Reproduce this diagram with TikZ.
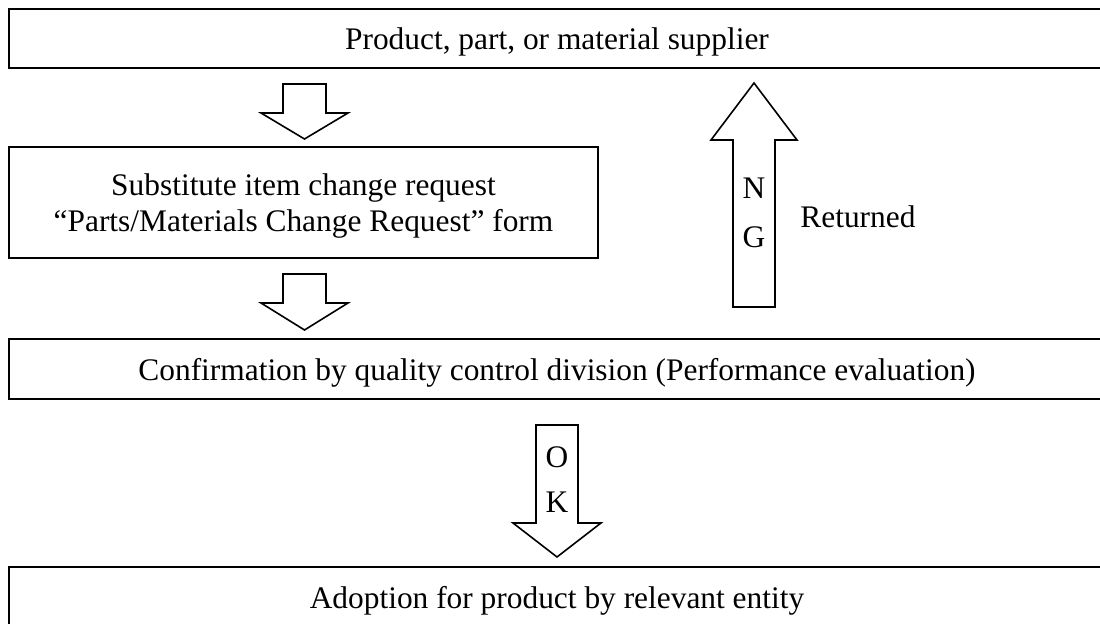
\documentclass[tikz,border=0pt]{standalone}
\usepackage{fontspec}
\setmainfont{Liberation Serif}
\usepackage{tikz}

\begin{document}
\begin{tikzpicture}[x=0.5pt,y=-0.5pt]
					\tikzstyle{every node}=[font=\fontsize{15.7}{18}\selectfont]
					\tikzstyle{box}=[draw,rectangle,line width=1pt,align=center,inner sep=0pt,text depth=0pt]
					\tikzstyle{blockarrow}=[draw,line width=0.8pt,line join=miter]
					\path[use as bounding box,clip] (0,0) rectangle (1100,624);

					\node[box,minimum width=548pt,minimum height=29.5pt] (supplier) at (557,38.5) {Product, part, or material supplier};
					\node[box,minimum width=294.5pt,minimum height=55.5pt] (request) at (303.5,202.5)
						{Substitute item change request\\``Parts/Materials Change Request'' form};
					\node[box,minimum width=548pt,minimum height=30pt] (confirm) at (557,369) {Confirmation by quality control division (Performance evaluation)};
					\node[box,minimum width=548pt,minimum height=30pt] (adopt) at (557,597) {Adoption for product by relevant entity};

					% downward arrows
					\draw[blockarrow] (283,84) -- (326,84) -- (326,113) -- (348,113) -- (304.5,139)
						-- (261,113) -- (283,113) -- cycle;
					\draw[blockarrow] (283,274) -- (326,274) -- (326,303) -- (348,303) -- (304.5,330)
						-- (261,303) -- (283,303) -- cycle;

					% NG back to supplier
					\draw[blockarrow] (733,307) -- (775,307) -- (775,140) -- (797,140) -- (754,83)
						-- (711,140) -- (733,140) -- cycle;
					\node (n) at (754,188) {N};
					\node (g) at (754,237) {G};
					\node[anchor=west,inner sep=0pt] (returned) at (800,217) {Returned};

					% OK to adoption
					\draw[blockarrow] (536,425) -- (578,425) -- (578,523) -- (601,523) -- (557,557)
						-- (513,523) -- (536,523) -- cycle;
					\node (o) at (557,457) {O};
					\node (k) at (557,502) {K};
					\end{tikzpicture}
\end{document}
